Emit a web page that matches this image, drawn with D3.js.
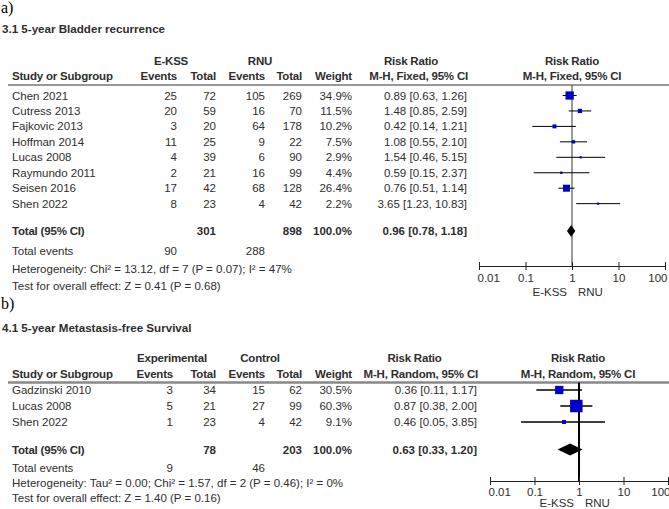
<!DOCTYPE html>
<html><head><meta charset="utf-8">
<script src="https://cdn.jsdelivr.net/npm/d3@7"></script>
<style>
body{margin:0;background:#fff}
svg{display:block}
</style>
</head><body>
<svg id="chart" width="669" height="509"></svg>
<script>
// ---------- shared axis ----------
const tickValues = [0.01, 0.1, 1, 10, 100];
const tickLabels = ["0.01", "0.1", "1", "10", "100"];
const favourLabels = ["E-KSS", "RNU"];

// ---------- panel a : 5-year bladder recurrence ----------
const studiesA   = ["Chen 2021","Cutress 2013","Fajkovic 2013","Hoffman 2014","Lucas 2008","Raymundo 2011","Seisen 2016","Shen 2022"];
const expEventsA = [25, 20, 3, 11, 4, 2, 17, 8];
const expTotalA  = [72, 59, 20, 25, 39, 21, 42, 23];
const ctlEventsA = [105, 16, 64, 9, 6, 16, 68, 4];
const ctlTotalA  = [269, 70, 178, 22, 90, 99, 128, 42];
const weightA    = [34.9, 11.5, 10.2, 7.5, 2.9, 4.4, 26.4, 2.2];
const rrA        = [0.89, 1.48, 0.42, 1.08, 1.54, 0.59, 0.76, 3.65];
const lowA       = [0.63, 0.85, 0.14, 0.55, 0.46, 0.15, 0.51, 1.23];
const highA      = [1.26, 2.59, 1.21, 2.10, 5.15, 2.37, 1.14, 10.83];
const pooledA    = [0.96, 0.78, 1.18];      // RR, low, high
const totalsA    = [301, 898, 100.0];       // exp total, ctl total, weight
const totalEventsA = [90, 288];
const groupsA    = ["E-KSS", "RNU"];
const methodA    = "M-H, Fixed, 95% CI";
const hetA       = "Heterogeneity: Chi² = 13.12, df = 7 (P = 0.07); I² = 47%";
const testA      = "Test for overall effect: Z = 0.41 (P = 0.68)";

// ---------- panel b : 5-year metastasis-free survival ----------
const studiesB   = ["Gadzinski 2010","Lucas 2008","Shen 2022"];
const expEventsB = [3, 5, 1];
const expTotalB  = [34, 21, 23];
const ctlEventsB = [15, 27, 4];
const ctlTotalB  = [62, 99, 42];
const weightB    = [30.5, 60.3, 9.1];
const rrB        = [0.36, 0.87, 0.46];
const lowB       = [0.11, 0.38, 0.05];
const highB      = [1.17, 2.00, 3.85];
const pooledB    = [0.63, 0.33, 1.20];
const totalsB    = [78, 203, 100.0];
const totalEventsB = [9, 46];
const groupsB    = ["Experimental", "Control"];
const methodB    = "M-H, Random, 95% CI";
const hetB       = "Heterogeneity: Tau² = 0.00; Chi² = 1.57, df = 2 (P = 0.46); I² = 0%";
const testB      = "Test for overall effect: Z = 1.40 (P = 0.16)";

// ---------- drawing ----------
const svg = d3.select("#chart");
const SANS = "'Liberation Sans', Arial, Helvetica, sans-serif";
const SERIF = "'Liberation Serif', 'Times New Roman', serif";
const TXT = "#2e2e2e";
const FS = 11.5;
const f2 = d3.format(".2f"), f1 = d3.format(".1f");
const ciText = (r, l, h) => `${f2(r)} [${f2(l)}, ${f2(h)}]`;

function txt(g, x, y, s, o = {}) {
  return g.append("text").attr("x", x).attr("y", y)
    .attr("text-anchor", o.anchor || "start")
    .attr("font-family", o.family || SANS)
    .attr("font-size", o.size || FS)
    .attr("font-weight", o.bold ? "bold" : "normal")
    .attr("letter-spacing", o.ls || 0)
    .attr("fill", o.color || TXT)
    .text(s);
}

function drawPanel(d, L) {
  const g = svg.append("g");
  txt(g, 1, L.labelY, L.label, {family: SERIF, size: 16, color: "#000"});
  txt(g, 2, L.titleY, d.title, {bold: true, size: 11.6});

  // headers
  const H = {bold: true, ls: -0.2};
  txt(g, L.grpX[0], L.hdr1Y, d.groups[0], {...H, anchor: "middle"});
  txt(g, L.grpX[1], L.hdr1Y, d.groups[1], {...H, anchor: "middle"});
  txt(g, L.rrHdrX, L.hdr1Y, "Risk Ratio", {...H, anchor: "middle"});
  txt(g, L.ciRight + 1, L.hdr2Y, d.method, {...H, anchor: "end"});
  txt(g, L.plotHdrX, L.hdr1Y, "Risk Ratio", {...H, anchor: "middle"});
  txt(g, L.plotHdrX, L.hdr2Y, d.method, {...H, anchor: "middle"});
  txt(g, 12, L.hdr2Y, "Study or Subgroup", H);
  txt(g, L.col[0], L.hdr2Y, "Events", {...H, anchor: "end"});
  txt(g, L.col[1], L.hdr2Y, "Total", {...H, anchor: "end"});
  txt(g, L.col[2], L.hdr2Y, "Events", {...H, anchor: "end"});
  txt(g, L.col[3], L.hdr2Y, "Total", {...H, anchor: "end"});
  txt(g, L.col[4], L.hdr2Y, "Weight", {...H, anchor: "end"});

  g.append("line").attr("x1", 8).attr("x2", 669)
    .attr("y1", L.lineY).attr("y2", L.lineY)
    .attr("stroke", L.lineColor).attr("stroke-width", L.lineW);

  const x = d3.scaleLog().domain([tickValues[0], tickValues[tickValues.length - 1]]).range(L.xRange);
  const size = d3.scalePow().exponent(0.6).domain([0, d3.max(d.weight)]).range([0, L.sizeMax]);
  const rowY = i => L.firstRowY + i * L.step;

  // null line
  g.append("line").attr("x1", x(1)).attr("x2", x(1))
    .attr("y1", L.lineY).attr("y2", L.axisY)
    .attr("stroke", L.vColor).attr("stroke-width", L.vW);

  d.studies.forEach((s, i) => {
    const y = rowY(i);
    txt(g, 12, y, s);
    txt(g, L.col[0], y, d.expEvents[i], {anchor: "end"});
    txt(g, L.col[1], y, d.expTotal[i], {anchor: "end"});
    txt(g, L.col[2], y, d.ctlEvents[i], {anchor: "end"});
    txt(g, L.col[3], y, d.ctlTotal[i], {anchor: "end"});
    txt(g, L.col[4], y, f1(d.weight[i]) + "%", {anchor: "end"});
    txt(g, L.ciRight, y, ciText(d.rr[i], d.low[i], d.high[i]), {anchor: "end"});
    const cy = y - 4;
    g.append("line").attr("x1", x(d.low[i])).attr("x2", x(d.high[i]))
      .attr("y1", cy).attr("y2", cy).attr("stroke", "#000").attr("stroke-width", L.ciW);
    const sz = Math.max(2.2, size(d.weight[i]));
    g.append("rect").attr("x", x(d.rr[i]) - sz / 2).attr("y", cy - sz / 2)
      .attr("width", sz).attr("height", sz).attr("fill", "#0000c8");
  });

  // total row
  const B = {bold: true, anchor: "end"};
  txt(g, 12, L.totalY, "Total (95% CI)", {bold: true, ls: -0.2});
  txt(g, L.col[1], L.totalY, d.totals[0], B);
  txt(g, L.col[3], L.totalY, d.totals[1], B);
  txt(g, L.col[4], L.totalY, f1(d.totals[2]) + "%", B);
  txt(g, L.ciRight, L.totalY, ciText(...d.pooled), B);
  const dy = L.totalY - 4;
  g.append("path")
    .attr("d", `M${x(d.pooled[1])},${dy}L${x(d.pooled[0])},${dy - 6}L${x(d.pooled[2])},${dy}L${x(d.pooled[0])},${dy + 6}Z`)
    .attr("fill", "#000");

  txt(g, 12, L.eventsY, "Total events");
  txt(g, L.col[0], L.eventsY, d.totalEvents[0], {anchor: "end"});
  txt(g, L.col[2], L.eventsY, d.totalEvents[1], {anchor: "end"});
  txt(g, 12, L.hetY, d.het);
  txt(g, 12, L.testY, d.test);

  // axis
  const axis = d3.axisBottom(x).tickValues(tickValues)
    .tickFormat((v, i) => tickLabels[i]).tickSizeInner(4).tickSizeOuter(0);
  const ga = g.append("g").attr("transform", `translate(0,${L.axisY})`).call(axis)
    .attr("font-family", SANS).attr("font-size", FS);
  ga.select(".domain").attr("stroke", "#222");
  ga.selectAll(".tick line").attr("y1", -4).attr("y2", 4).attr("stroke", "#222");
  const n = tickValues.length;
  ga.selectAll(".tick text").attr("dy", 0).attr("y", L.tickY - L.axisY).attr("fill", TXT)
    .attr("text-anchor", (v, i) => i === 0 ? "start" : i === n - 1 ? "end" : "middle")
    .attr("dx", (v, i) => i === 0 ? -2 : i === n - 1 ? 2 : 0);
  txt(g, x(1) - 5, L.favY, favourLabels[0], {anchor: "end"});
  txt(g, x(1) + 6, L.favY, favourLabels[1]);
}

drawPanel(
  {title: "3.1 5-year Bladder recurrence", groups: groupsA, method: methodA,
   studies: studiesA, expEvents: expEventsA, expTotal: expTotalA, ctlEvents: ctlEventsA,
   ctlTotal: ctlTotalA, weight: weightA, rr: rrA, low: lowA, high: highA,
   pooled: pooledA, totals: totalsA, totalEvents: totalEventsA, het: hetA, test: testA},
  {label: "a)", labelY: 12.5, titleY: 33, hdr1Y: 65, hdr2Y: 80, lineY: 85, lineW: 1, lineColor: "#333",
   grpX: [171, 260], rrHdrX: 411, plotHdrX: 572, col: [177, 216, 265, 302, 352], ciRight: 467,
   firstRowY: 99.5, step: 15.45, totalY: 235, eventsY: 255, hetY: 273, testY: 289.5,
   xRange: [479, 665], axisY: 266, tickY: 282, favY: 296, sizeMax: 8.3,
   vColor: "#555", vW: 1.2, ciW: 1}
);

drawPanel(
  {title: "4.1 5-year Metastasis-free Survival", groups: groupsB, method: methodB,
   studies: studiesB, expEvents: expEventsB, expTotal: expTotalB, ctlEvents: ctlEventsB,
   ctlTotal: ctlTotalB, weight: weightB, rr: rrB, low: lowB, high: highB,
   pooled: pooledB, totals: totalsB, totalEvents: totalEventsB, het: hetB, test: testB},
  {label: "b)", labelY: 309, titleY: 332, hdr1Y: 362, hdr2Y: 378, lineY: 382.5, lineW: 2.5, lineColor: "#888",
   grpX: [172, 260], rrHdrX: 414.5, plotHdrX: 578, col: [173, 216, 265, 302, 352], ciRight: 477,
   firstRowY: 394, step: 16, totalY: 453.5, eventsY: 472, hetY: 487, testY: 502,
   xRange: [490, 668], axisY: 481, tickY: 496, favY: 507, sizeMax: 12.5,
   vColor: "#000", vW: 2, ciW: 1.3}
);
</script>
</body></html>
